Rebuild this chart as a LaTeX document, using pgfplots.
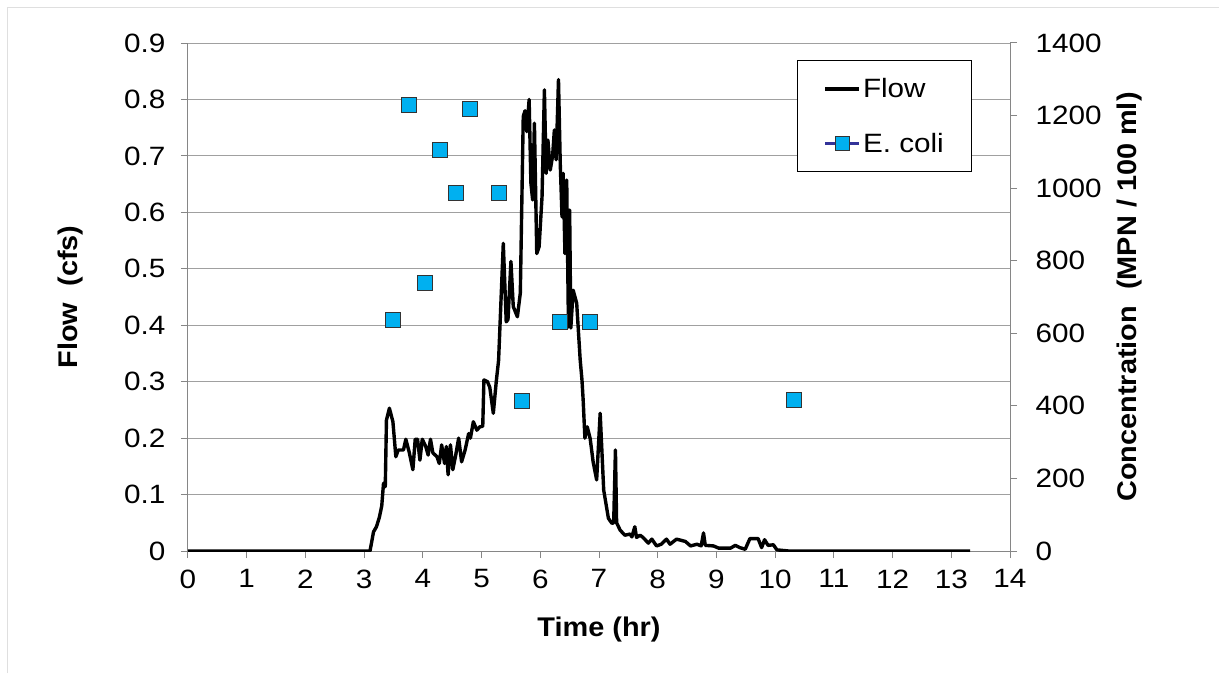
\documentclass[border=0pt]{standalone}
\usepackage{pgfplots}
\pgfplotsset{compat=1.18}
\usepackage{fontspec}
\setmainfont{Liberation Sans}
\newfontfamily\stretchfam{Liberation Sans}[FakeStretch=1.12]
\newfontfamily\labfam{Liberation Sans}[FakeStretch=1.07]
\definecolor{ecfill}{RGB}{0,176,240}
\definecolor{ecline}{RGB}{51,51,153}
\definecolor{gridc}{RGB}{160,160,160}
\definecolor{axc}{RGB}{134,134,134}
\newcommand{\tickfont}{\stretchfam\fontsize{26.5}{30}\selectfont}
\newcommand{\labfont}{\labfam\fontsize{27}{31}\selectfont\bfseries}
\begin{document}
\begin{tikzpicture}
\path[use as bounding box] (-188pt,-122pt) rectangle (1031pt,551pt);
\draw[gray!25, line width=1pt] (-180pt,-122pt) -- (-180pt,543pt) -- (1031pt,543pt);
\begin{axis}[
  scale only axis, width=822pt, height=508pt,
  xmin=0, xmax=14, ymin=0, ymax=0.9,
  xtick={0,1,2,3,4,5,6,7,8,9,10,11,12,13,14},
  ytick={0,0.1,0.2,0.3,0.4,0.5,0.6,0.7,0.8,0.9},
  axis y line*=left, axis x line*=bottom,
  axis line style={axc, line width=1pt, -},
  tick style={axc, line width=1pt},
  tick align=outside, major tick length=7pt,
  ymajorgrids, grid style={gridc, line width=1pt},
  /pgf/number format/assume math mode=true,
  ticklabel style={font=\tickfont},
  yticklabel style={xshift=-12pt},
  xticklabel style={yshift=-8pt},
  xlabel={\labfont Time (hr)},
  ylabel={\labfont Flow\ \ (cfs)},
  xlabel style={yshift=-22pt},
  ylabel style={yshift=34pt},
]
\addplot[black, line width=3.4pt, line join=round] coordinates {
(0,0) (3.10,0) (3.16,0.034) (3.21,0.043) (3.26,0.06) (3.30,0.08) (3.33,0.12) (3.36,0.114)
(3.38,0.232) (3.43,0.253) (3.49,0.229) (3.54,0.167) (3.58,0.179) (3.67,0.179) (3.71,0.198)
(3.77,0.174) (3.83,0.144) (3.87,0.198) (3.91,0.198) (3.95,0.161) (3.99,0.198) (4.05,0.185)
(4.09,0.170) (4.13,0.198) (4.17,0.174) (4.24,0.167) (4.28,0.155) (4.32,0.188) (4.37,0.155)
(4.40,0.185) (4.43,0.135) (4.47,0.188) (4.51,0.144) (4.56,0.17) (4.61,0.200) (4.66,0.158)
(4.72,0.179) (4.78,0.208) (4.81,0.200) (4.86,0.229) (4.92,0.214) (4.97,0.220) (5.02,0.221)
(5.04,0.303) (5.10,0.300) (5.14,0.29) (5.20,0.244) (5.25,0.300) (5.29,0.338) (5.37,0.545)
(5.42,0.406) (5.45,0.41) (5.50,0.513) (5.54,0.433) (5.61,0.415) (5.66,0.457) (5.71,0.770)
(5.74,0.780) (5.77,0.743) (5.81,0.800) (5.84,0.652) (5.87,0.622) (5.90,0.758) (5.94,0.527)
(5.98,0.539) (6.03,0.628) (6.07,0.817) (6.10,0.669) (6.13,0.728) (6.17,0.675) (6.21,0.700)
(6.24,0.746) (6.27,0.693) (6.31,0.835) (6.34,0.687) (6.37,0.592) (6.39,0.669) (6.42,0.527)
(6.45,0.657) (6.48,0.397) (6.50,0.604) (6.52,0.395) (6.56,0.462) (6.62,0.439) (6.68,0.338)
(6.71,0.303) (6.73,0.268) (6.76,0.200) (6.80,0.220) (6.85,0.199) (6.90,0.158) (6.96,0.126)
(7.02,0.244) (7.08,0.108) (7.16,0.058) (7.22,0.049) (7.25,0.050) (7.28,0.179) (7.30,0.050)
(7.36,0.037) (7.44,0.028) (7.53,0.030) (7.56,0.025) (7.61,0.043) (7.64,0.024) (7.70,0.028)
(7.75,0.024) (7.84,0.014) (7.90,0.021) (7.98,0.009) (8.06,0.012) (8.15,0.021) (8.21,0.012)
(8.32,0.021) (8.47,0.017) (8.56,0.009) (8.67,0.012) (8.74,0.009) (8.78,0.032) (8.81,0.010)
(8.95,0.009) (9.04,0.005) (9.24,0.005) (9.32,0.010) (9.40,0.006) (9.49,0.003) (9.57,0.022)
(9.71,0.022) (9.77,0.006) (9.82,0.020) (9.88,0.010) (9.97,0.011) (10.03,0.002) (10.23,0)
(13.32,0)
};
\end{axis}
\begin{axis}[
  scale only axis, width=822pt, height=508pt,
  xmin=0, xmax=14, ymin=0, ymax=1400,
  ytick={0,200,400,600,800,1000,1200,1400},
  axis y line*=right, axis x line=none,
  axis line style={axc, line width=1pt, -},
  tick style={axc, line width=1pt},
  tick align=outside, major tick length=7pt,
  /pgf/number format/assume math mode=true,
  /pgf/number format/set thousands separator={},
  ticklabel style={font=\tickfont},
  yticklabel style={xshift=15pt},
  ylabel={\labfont Concentration\ \ (MPN / 100 ml)},
  ylabel style={yshift=-9pt},
  legend style={at={(0.741,0.9665)}, anchor=north west, draw=black, line width=1pt,
    font=\tickfont, row sep=30pt, inner xsep=26pt, inner ysep=16pt},
  legend cell align=left,
]
\addlegendimage{black, line width=3.4pt, legend image code/.code={\draw[black, line width=3.4pt] (0pt,0pt) -- (34pt,0pt);}}
\addlegendentry{Flow}
\addplot[only marks, mark=square*, mark size=7.5pt, mark options={fill=ecfill, draw=black!80, line width=1.2pt},
  legend image code/.code={\draw[ecline, line width=3pt] (0pt,0pt) -- (34pt,0pt); \draw[fill=ecfill, draw=black!80, line width=1.2pt] (10pt,-7pt) rectangle (24pt,7pt);}]
coordinates {
(3.49,636) (3.76,1229) (4.04,739) (4.29,1105) (4.57,987) (4.80,1218)
(5.30,987) (5.69,413) (6.34,631) (6.85,631) (10.32,416)
};
\addlegendentry{E. coli}
\end{axis}
\end{tikzpicture}
\end{document}
